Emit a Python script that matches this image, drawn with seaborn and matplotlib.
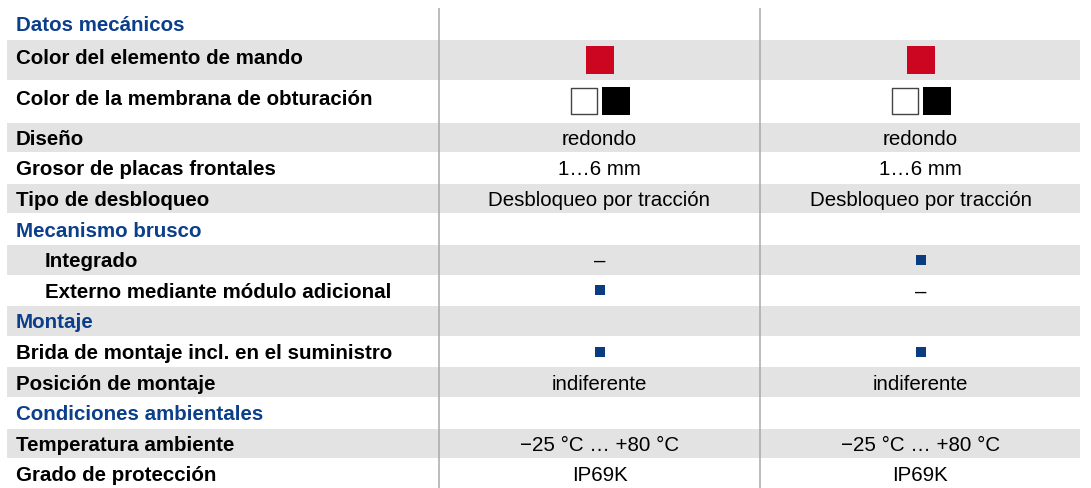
import numpy as np
import pandas as pd
import seaborn as sns
import matplotlib.pyplot as plt
from matplotlib.patches import Rectangle


etiquetas = [
    "Datos mecánicos",
    "Color del elemento de mando",
    "Color de la membrana de obturación",
    "Diseño",
    "Grosor de placas frontales",
    "Tipo de desbloqueo",
    "Mecanismo brusco",
    "Integrado",
    "Externo mediante módulo adicional",
    "Montaje",
    "Brida de montaje incl. en el suministro",
    "Posición de montaje",
    "Condiciones ambientales",
    "Temperatura ambiente",
    "Grado de protección",
]
tipos = ["seccion", "fila", "fila", "fila", "fila", "fila", "seccion", "sub", "sub",
         "seccion", "fila", "fila", "seccion", "fila", "fila"]

# "rojo" = cuadro rojo, "bn" = cuadros blanco y negro, "punto" = cuadro azul
valores_a = ["", "rojo", "bn", "redondo", "1…6 mm", "Desbloqueo por tracción", "",
             "–", "punto", "", "punto", "indiferente", "", "−25 °C … +80 °C", "IP69K"]
valores_b = ["", "rojo", "bn", "redondo", "1…6 mm", "Desbloqueo por tracción", "",
             "punto", "–", "", "punto", "indiferente", "", "−25 °C … +80 °C", "IP69K"]

# alto de cada fila en pixeles
alto_filas = [31, 41, 42] + [30.6] * 12

sns.set_theme(style="white")
plt.rcParams["font.family"] = ["Liberation Sans", "DejaVu Sans"]

fig = plt.figure(figsize=(10.91, 4.88), dpi=100)
ax = fig.add_axes([0, 0, 1, 1])
ax.set_xlim(0, 1091)
ax.set_ylim(488, 0)
ax.axis("off")

gris = "#e2e3e2"
azul = "#0b3e8b"
fs = 14.8

y0 = 8
bordes = y0 + np.concatenate([[0], np.cumsum(alto_filas)])
centros = (bordes[:-1] + bordes[1:]) / 2
x_sep = [439, 760, 1081]
col_x = [(x_sep[0] + x_sep[1]) / 2, (x_sep[1] + x_sep[2]) / 2]

# franjas grises alternas
for i in range(len(etiquetas)):
    if i % 2 == 1:
        ax.add_patch(Rectangle((7, bordes[i] + 0.5), 1073, alto_filas[i] - 1,
                               facecolor=gris, edgecolor="none", zorder=0))

ax.vlines(x_sep[:2], y0, 488, color="#a9a9a9", lw=1.1, zorder=1)

# textos
marcas = []
for i, (txt, tipo) in enumerate(zip(etiquetas, tipos)):
    base = centros[i] + (7.5 if alto_filas[i] < 35 else 4)
    x = 45 if tipo == "sub" else 16
    color = azul if tipo == "seccion" else "#000000"
    ax.text(x, base, txt, fontsize=fs, fontweight="bold", color=color, va="baseline")
    for cx, val in zip(col_x, [valores_a[i], valores_b[i]]):
        if val == "rojo":
            marcas.append((cx, centros[i], "rojo"))
        elif val == "bn":
            marcas.append((cx - 16, centros[i], "blanco"))
            marcas.append((cx + 16.5, centros[i], "negro"))
        elif val == "punto":
            marcas.append((cx, centros[i], "punto"))
        elif val:
            ax.text(cx, base, val, fontsize=fs, color="#000000", ha="center", va="baseline")

df = pd.DataFrame(marcas, columns=["x", "y", "tipo"])
estilos = {
    "rojo": dict(color="#cc0621", s=378, linewidth=0),
    "negro": dict(color="#000000", s=378, linewidth=0),
    "blanco": dict(color="#ffffff", s=338, linewidth=1.0, edgecolor="#444444"),
    "punto": dict(color="#0a3d80", s=52, linewidth=0),
}
for tipo, est in estilos.items():
    sub = df[df["tipo"] == tipo]
    sns.scatterplot(data=sub, x="x", y="y", marker="s", ax=ax, legend=False, zorder=3, **est)

ax.set_xlim(0, 1091)
ax.set_ylim(488, 0)
ax.axis("off")

fig.savefig("out.png", dpi=100)
